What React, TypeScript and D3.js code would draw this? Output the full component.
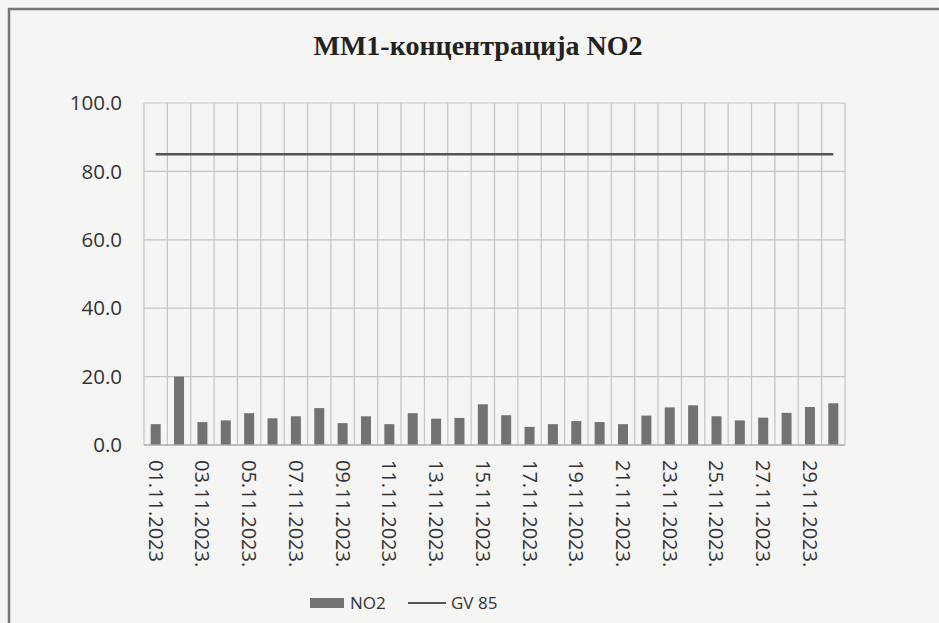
import React, { useEffect, useRef } from 'react';
import * as d3 from 'd3';

// daily NO2 values, November 2023
const days: string[] = d3.range(1, 31).map(d => `${String(d).padStart(2, '0')}.11.2023.`);
const no2: number[] = [
  6.1, 20.0, 6.7, 7.2, 9.3, 7.8, 8.4, 10.8, 6.4, 8.4,
  6.1, 9.3, 7.7, 7.9, 11.9, 8.7, 5.3, 6.1, 7.0, 6.7,
  6.1, 8.6, 11.0, 11.6, 8.4, 7.2, 8.0, 9.4, 11.1, 12.2,
];
const limit: number[] = days.map(() => 85);
const yTicks: number[] = [0, 20, 40, 60, 80, 100];

const W = 939;
const H = 623;

const Chart: React.FC = () => {
  const svgRef = useRef<SVGSVGElement>(null);

  useEffect(() => {
    if (!svgRef.current) return;
    const svg = d3.select(svgRef.current);
    svg.selectAll('*').remove();

    const left = 144, right = 845, top = 103, bottom = 445;
    const x = d3.scaleBand<string>().domain(days).range([left, right]);
    const y = d3.scaleLinear().domain([0, 100]).range([bottom, top]);

    svg.append('rect').attr('width', W).attr('height', H).attr('fill', '#f5f5f3');

    // outer frame (only top and left visible in the scan)
    svg.append('path')
      .attr('d', `M9,${H} V9 H${W}`)
      .attr('fill', 'none').attr('stroke', '#777').attr('stroke-width', 2.5);

    svg.append('text')
      .attr('x', 478).attr('y', 55)
      .attr('text-anchor', 'middle')
      .attr('font-family', '"Liberation Serif", serif')
      .attr('font-weight', 'bold').attr('font-size', 28)
      .attr('fill', '#222')
      .text('ММ1-концентрација NO2');

    const grid = svg.append('g').attr('stroke', '#c4c4c4').attr('stroke-width', 1.2);
    grid.selectAll('line.h').data(yTicks.slice(1)).join('line')
      .attr('x1', left).attr('x2', right)
      .attr('y1', d => y(d)).attr('y2', d => y(d));
    const edges = [...days.map(d => x(d)!), right];
    grid.selectAll('line.v').data(edges).join('line')
      .attr('x1', d => d).attr('x2', d => d)
      .attr('y1', top).attr('y2', bottom);

    svg.append('g')
      .attr('font-family', '"Open Sans", sans-serif').attr('font-size', 20.5).attr('fill', '#333')
      .selectAll('text').data(yTicks).join('text')
      .attr('x', 122).attr('y', d => y(d)).attr('dy', '0.35em')
      .attr('text-anchor', 'end')
      .text(d => d.toFixed(1));

    const bw = 10;
    svg.append('g').attr('fill', '#727272')
      .selectAll('rect').data(no2).join('rect')
      .attr('x', (_, i) => x(days[i])! + x.bandwidth() / 2 - bw / 2)
      .attr('width', bw)
      .attr('y', d => y(d))
      .attr('height', d => y(0) - y(d));

    svg.append('line')
      .attr('x1', left).attr('x2', right).attr('y1', bottom).attr('y2', bottom)
      .attr('stroke', '#aaa').attr('stroke-width', 1.5);

    const line = d3.line<number>()
      .x((_, i) => x(days[i])! + x.bandwidth() / 2)
      .y(d => y(d));
    svg.append('path').datum(limit)
      .attr('d', line)
      .attr('fill', 'none').attr('stroke', '#555').attr('stroke-width', 2.5);

    svg.append('g')
      .attr('font-family', '"Open Sans", sans-serif').attr('font-size', 20).attr('fill', '#333')
      .selectAll('text').data(days.filter((_, i) => i % 2 === 0)).join('text')
      .attr('transform', d => `translate(${x(d)! + x.bandwidth() / 2},460) rotate(90)`)
      .attr('dy', '0.35em')
      .text((d, i) => (i === 0 ? d.slice(0, -1) : d));

    const lg = svg.append('g').attr('font-family', '"Open Sans", sans-serif').attr('font-size', 17).attr('fill', '#333');
    lg.append('rect').attr('x', 310).attr('y', 598).attr('width', 34).attr('height', 10).attr('fill', '#727272');
    lg.append('text').attr('x', 350).attr('y', 603).attr('dy', '0.35em').text('NO2');
    lg.append('line').attr('x1', 408).attr('x2', 446).attr('y1', 603).attr('y2', 603)
      .attr('stroke', '#555').attr('stroke-width', 2);
    lg.append('text').attr('x', 451).attr('y', 603).attr('dy', '0.35em').text('GV 85');
  }, []);

  return <svg ref={svgRef} width={W} height={H} style={{ display: 'block' }} />;
};

export default function App() {
  return (
    <div style={{ position: 'fixed', left: 0, top: 0, width: W, height: H }}>
      <Chart />
    </div>
  );
}
